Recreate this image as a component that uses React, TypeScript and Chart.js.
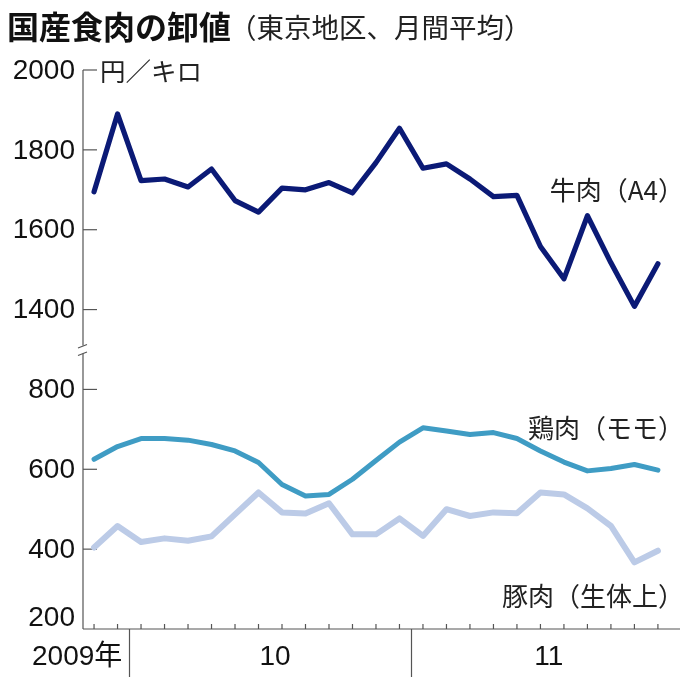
import { useEffect, useRef } from 'react';
import { Chart, registerables } from 'chart.js';
Chart.register(...registerables);

const months = [
  '2009-11', '2009-12',
  '2010-01', '2010-02', '2010-03', '2010-04', '2010-05', '2010-06',
  '2010-07', '2010-08', '2010-09', '2010-10', '2010-11', '2010-12',
  '2011-01', '2011-02', '2011-03', '2011-04', '2011-05', '2011-06',
  '2011-07', '2011-08', '2011-09', '2011-10', '2011-11',
];
const beef = [1695, 1890, 1723, 1727, 1707, 1752, 1673, 1644, 1704, 1700, 1718, 1692, 1768, 1854, 1754, 1765, 1727, 1683, 1686, 1558, 1477, 1635, 1517, 1408, 1515];
const chicken = [625, 657, 677, 677, 673, 662, 646, 617, 562, 533, 537, 575, 622, 668, 704, 696, 687, 692, 677, 646, 618, 596, 602, 612, 598];
const pork = [404, 458, 418, 427, 421, 432, 487, 542, 492, 489, 515, 437, 437, 477, 433, 500, 483, 492, 490, 542, 537, 502, 458, 367, 396];

const yTickLabels = [2000, 1800, 1600, 1400, 800, 600, 400, 200];
const yearLabels = ['2009年', '10', '11'];
const seriesNames = ['牛肉（A4）', '鶏肉（モモ）', '豚肉（生体上）'];
const title = '国産食肉の卸値';
const subtitle = '（東京地区、月間平均）';
const unit = '円／キロ';

// axis break: values from 1400 upward are drawn 400 lower
const BREAK_FROM = 1000;
const BREAK_SHIFT = 400;
const toAxis = (v: number) => (v >= BREAK_FROM ? v - BREAK_SHIFT : v);

const NUM_FONT = '"Liberation Sans", "Noto Sans CJK JP", sans-serif';
const JP_FONT = '"Noto Sans CJK JP", sans-serif';

export default function App() {
  const ref = useRef<HTMLCanvasElement>(null);

  useEffect(() => {
    const canvas = ref.current!;
    const deco = {
      id: 'deco',
      beforeDatasetsDraw(chart: any) {
        const c = chart.ctx;
        const { left, right, top, bottom } = chart.chartArea;
        const xs = chart.scales.x;
        const ys = chart.scales.y;
        c.save();
        c.strokeStyle = '#555';
        c.lineWidth = 1.2;
        // x axis
        c.beginPath();
        c.moveTo(left, bottom);
        c.lineTo(right, bottom);
        c.stroke();
        // y axis with break
        const yb = ys.getPixelForValue(900);
        c.beginPath();
        c.moveTo(left, top);
        c.lineTo(left, yb - 4);
        c.moveTo(left, yb + 4);
        c.lineTo(left, bottom);
        c.stroke();
        c.beginPath();
        c.moveTo(left - 5, yb - 1.5);
        c.lineTo(left + 4, yb - 5);
        c.moveTo(left - 5, yb + 6);
        c.lineTo(left + 4, yb + 2.5);
        c.stroke();
        // y ticks
        yTickLabels.forEach((v) => {
          if (v === 200) return;
          const y = ys.getPixelForValue(toAxis(v));
          c.beginPath();
          c.moveTo(left, y);
          c.lineTo(left + 14, y);
          c.stroke();
        });
        // x ticks
        months.forEach((_, i) => {
          const x = xs.getPixelForValue(i);
          c.beginPath();
          c.moveTo(x, bottom);
          c.lineTo(x, bottom - 5);
          c.stroke();
        });
        // year dividers
        [1.5, 13.5].forEach((p) => {
          const x = Math.round(xs.getPixelForValue(p)) + 0.5;
          c.beginPath();
          c.moveTo(x, bottom);
          c.lineTo(x, bottom + 48);
          c.stroke();
        });
        c.restore();
      },
      afterDraw(chart: any) {
        const c = chart.ctx;
        const { left } = chart.chartArea;
        const xs = chart.scales.x;
        const ys = chart.scales.y;
        c.save();
        c.fillStyle = '#111';
        // title
        c.textBaseline = 'middle';
        c.textAlign = 'left';
        c.font = `bold 32px ${JP_FONT}`;
        c.fillText(title, 7, 27);
        const tw = c.measureText(title).width;
        c.fillStyle = '#222';
        c.font = `27.5px ${JP_FONT}`;
        c.fillText(subtitle, 7 + tw - 2, 28);
        // unit
        c.font = `25.5px ${JP_FONT}`;
        c.fillText(unit, 100, 71);
        // y tick labels
        c.fillStyle = '#111';
        c.textAlign = 'right';
        c.font = `28px ${NUM_FONT}`;
        yTickLabels.forEach((v) => {
          let y = ys.getPixelForValue(toAxis(v));
          if (v === 200) y -= 12;
          c.fillText(String(v), left - 8, y + 1);
        });
        // x labels
        c.font = `28px ${NUM_FONT}`;
        c.textAlign = 'center';
        const xPos = [-0.72, 7.7, 19.35];
        yearLabels.forEach((t, i) => {
          c.fillText(t, xs.getPixelForValue(xPos[i]), 657);
        });
        // series labels
        c.fillStyle = '#222';
        c.textAlign = 'right';
        c.font = `26px ${JP_FONT}`;
        const labelY = [190, 428, 596];
        seriesNames.forEach((t, i) => {
          c.fillText(t, 684, labelY[i]);
        });
        c.restore();
      },
    };

    const chart = new Chart(canvas, {
      type: 'line',
      data: {
        datasets: [
          {
            label: seriesNames[2],
            data: pork.map((v, i) => ({ x: i, y: toAxis(v) })),
            borderColor: '#bccbe7',
            borderWidth: 6,
          },
          {
            label: seriesNames[1],
            data: chicken.map((v, i) => ({ x: i, y: toAxis(v) })),
            borderColor: '#3f9cc4',
            borderWidth: 5,
          },
          {
            label: seriesNames[0],
            data: beef.map((v, i) => ({ x: i, y: toAxis(v) })),
            borderColor: '#0b1a76',
            borderWidth: 5.2,
          },
        ],
      },
      options: {
        animation: false,
        responsive: false,
        devicePixelRatio: 1,
        layout: { padding: { left: 83, top: 70, right: 0, bottom: 51 } },
        elements: {
          point: { radius: 0 },
          line: { borderCapStyle: 'round', borderJoinStyle: 'round', tension: 0 },
        },
        plugins: { legend: { display: false }, tooltip: { enabled: false } },
        scales: {
          x: { type: 'linear', min: -0.47, max: 24.94, display: false },
          y: { type: 'linear', min: 200, max: 1600, display: false },
        },
      },
      plugins: [deco],
    } as any);
    return () => chart.destroy();
  }, []);

  return (
    <div style={{ position: 'absolute', left: 0, top: 0, width: 680, height: 680, background: '#fff' }}>
      <canvas ref={ref} width={680} height={680} style={{ display: 'block' }} />
    </div>
  );
}
